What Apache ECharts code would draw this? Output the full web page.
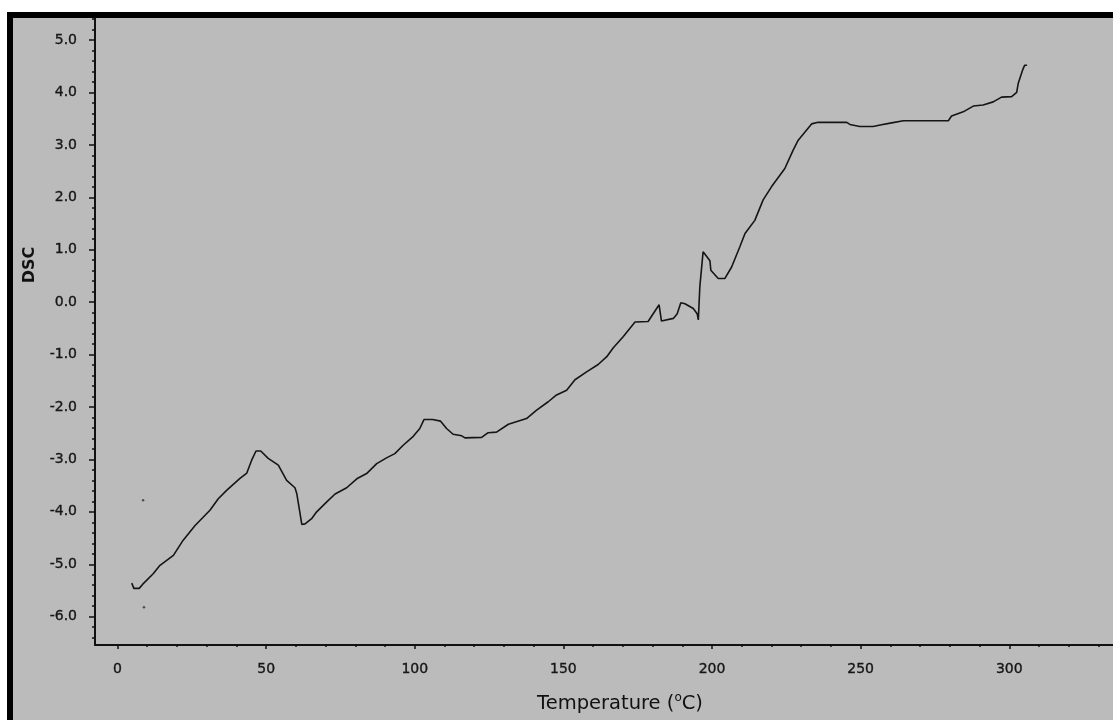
<!DOCTYPE html>
<html>
<head>
<meta charset="utf-8">
<title>DSC</title>
<script src="https://cdn.jsdelivr.net/npm/echarts@6/dist/echarts.min.js"></script>
<style>
  html, body { margin: 0; padding: 0; background: #ffffff; overflow: hidden; }
  #frame {
    position: absolute; left: 7px; top: 12px; width: 1100px; height: 702px;
    border-left: 6px solid #000; border-top: 6px solid #000; background: #bbbbbb;
  }
  #chart { position: absolute; left: 0; top: 0; width: 1113px; height: 720px; }
</style>
</head>
<body>
<div id="frame"></div>
<div id="chart"></div>
<script>
// DSC trace: temperature (°C) and signal
const temps = [4.8, 5.5, 7.3, 8.5, 12.0, 14.3, 18.8, 22.1, 26.1, 31.1, 33.9, 36.7, 41.2, 43.5, 45.1, 46.6,
  48.2, 50.7, 54.1, 56.9, 59.7, 60.3, 61.4, 62.0, 63.1, 65.3, 67.0, 70.4, 73.2, 77.1, 80.5, 83.8,
  87.2, 90.5, 93.3, 96.1, 99.5, 101.7, 103.1, 106.0, 108.7, 110.7, 112.9, 115.8, 116.9, 122.5, 124.7,
  127.5, 131.5, 137.6, 141.0, 144.9, 147.7, 151.1, 153.9, 157.8, 161.7, 164.6, 166.8, 170.1, 174.1,
  178.5, 182.2, 183.0, 187.0, 188.3, 189.5, 190.9, 193.7, 195.0, 195.4, 195.9, 197.0, 199.3, 199.6,
  202.1, 204.3, 206.6, 209.4, 211.1, 214.4, 217.2, 220.0, 224.5, 227.3, 229.0, 229.6, 233.5, 235.7,
  245.3, 246.4, 249.7, 254.2, 256.6, 260.4, 264.4, 279.5, 280.6, 284.5, 287.9, 291.2, 294.6, 297.4,
  300.8, 302.5, 303.0, 304.5, 305.2, 306.0];
const dsc = [-5.36, -5.46, -5.46, -5.38, -5.18, -5.02, -4.83, -4.54, -4.26, -3.97, -3.75, -3.59, -3.36, -3.26, -3.02, -2.84,
  -2.84, -2.98, -3.11, -3.40, -3.54, -3.65, -4.03, -4.24, -4.23, -4.13, -4.00, -3.81, -3.66, -3.54, -3.37, -3.27,
  -3.08, -2.97, -2.89, -2.73, -2.56, -2.41, -2.24, -2.24, -2.27, -2.41, -2.52, -2.55, -2.59, -2.58, -2.49,
  -2.48, -2.33, -2.22, -2.06, -1.90, -1.77, -1.68, -1.48, -1.33, -1.19, -1.04, -0.87, -0.66, -0.38,
  -0.37, -0.05, -0.36, -0.31, -0.22, -0.01, -0.03, -0.12, -0.22, -0.34, 0.29, 0.96, 0.79, 0.61,
  0.45, 0.45, 0.67, 1.06, 1.31, 1.56, 1.95, 2.20, 2.55, 2.90, 3.09, 3.12, 3.40, 3.43,
  3.43, 3.39, 3.35, 3.35, 3.38, 3.42, 3.46, 3.46, 3.55, 3.63, 3.74, 3.76, 3.82, 3.91,
  3.92, 4.00, 4.17, 4.43, 4.52, 4.52];

// two isolated readings near the start of the run
const strayTemps = [8.6, 8.9];
const strayDsc = [-3.78, -5.82];

// tick positions
const xMajor = [0, 50, 100, 150, 200, 250, 300];
const xMinor = [10, 20, 30, 40, 60, 70, 80, 90, 110, 120, 130, 140, 160, 170, 180, 190,
  210, 220, 230, 240, 260, 270, 280, 290, 310, 320, 330];
const yMajor = [-6, -5, -4, -3, -2, -1, 0, 1, 2, 3, 4, 5];
const yMinor = [-6.4, -6.2, -5.8, -5.6, -5.4, -5.2, -4.8, -4.6, -4.4, -4.2, -3.8, -3.6, -3.4, -3.2,
  -2.8, -2.6, -2.4, -2.2, -1.8, -1.6, -1.4, -1.2, -0.8, -0.6, -0.4, -0.2, 0.2, 0.4, 0.6, 0.8,
  1.2, 1.4, 1.6, 1.8, 2.2, 2.4, 2.6, 2.8, 3.2, 3.4, 3.6, 3.8, 4.2, 4.4, 4.6, 4.8, 5.2, 5.4];

const X_MIN = -7.57, X_MAX = 334.9;
const Y_MIN = -6.54, Y_MAX = 5.42;

const FONT = 'DejaVu Sans';
const INK = '#111111';

// shared tick-label look: slightly heavy regular weight
const labelText = {
  fontFamily: FONT, fontSize: 14, color: '#161616',
  textBorderColor: '#161616', textBorderWidth: 0.35
};

const chart = echarts.init(document.getElementById('chart'), null, { renderer: 'canvas' });

function xAxisDef(values, tickLen, withLine, withLabels) {
  return {
    type: 'value', min: X_MIN, max: X_MAX, position: 'bottom',
    axisLine: { show: withLine, onZero: false, lineStyle: { color: INK, width: 2 } },
    axisTick: { show: true, length: tickLen, customValues: values, lineStyle: { color: INK, width: 1.5 } },
    axisLabel: withLabels
      ? Object.assign({ customValues: values, margin: 17 }, labelText)
      : { show: false },
    splitLine: { show: false }
  };
}
function yAxisDef(values, tickLen, withLine, withLabels) {
  return {
    type: 'value', min: Y_MIN, max: Y_MAX, position: 'left',
    axisLine: { show: withLine, onZero: false, lineStyle: { color: INK, width: 2 } },
    axisTick: { show: true, length: tickLen, customValues: values, lineStyle: { color: INK, width: 1.5 } },
    axisLabel: withLabels
      ? Object.assign({ customValues: values, margin: 18, formatter: v => Number(v).toFixed(1) }, labelText)
      : { show: false },
    splitLine: { show: false }
  };
}

chart.setOption({
  animation: false,
  backgroundColor: 'transparent',
  grid: { left: 95, top: 18, right: 0, bottom: 75, containLabel: false },
  xAxis: [xAxisDef(xMajor, 4, true, true), xAxisDef(xMinor, 2, false, false)],
  yAxis: [yAxisDef(yMajor, 6, true, true), yAxisDef(yMinor, 3, false, false)],
  series: [
    {
      type: 'line',
      xAxisIndex: 0, yAxisIndex: 0,
      data: temps.map((t, i) => [t, dsc[i]]),
      showSymbol: false,
      lineStyle: { color: '#151515', width: 1.6 },
      z: 3
    },
    {
      type: 'scatter',
      xAxisIndex: 0, yAxisIndex: 0,
      data: strayTemps.map((t, i) => [t, strayDsc[i]]),
      symbolSize: 2.5,
      itemStyle: { color: '#333333' },
      z: 3
    }
  ],
  graphic: [
    {
      type: 'text', x: 620, y: 704,
      style: {
        text: '{n|Temperature (}{s|o}{n|C)}',
        align: 'center', verticalAlign: 'middle',
        rich: {
          n: { fontFamily: FONT, fontSize: 19.5, fill: INK, lineHeight: 24, verticalAlign: 'middle' },
          s: { fontFamily: FONT, fontSize: 12, fill: INK, lineHeight: 24, verticalAlign: 'top' }
        }
      }
    },
    {
      type: 'text', x: 30, y: 265, rotation: Math.PI / 2,
      style: {
        text: 'DSC', align: 'center', verticalAlign: 'middle',
        font: 'bold 16px "DejaVu Sans"', fill: INK
      }
    }
  ]
});
</script>
</body>
</html>
